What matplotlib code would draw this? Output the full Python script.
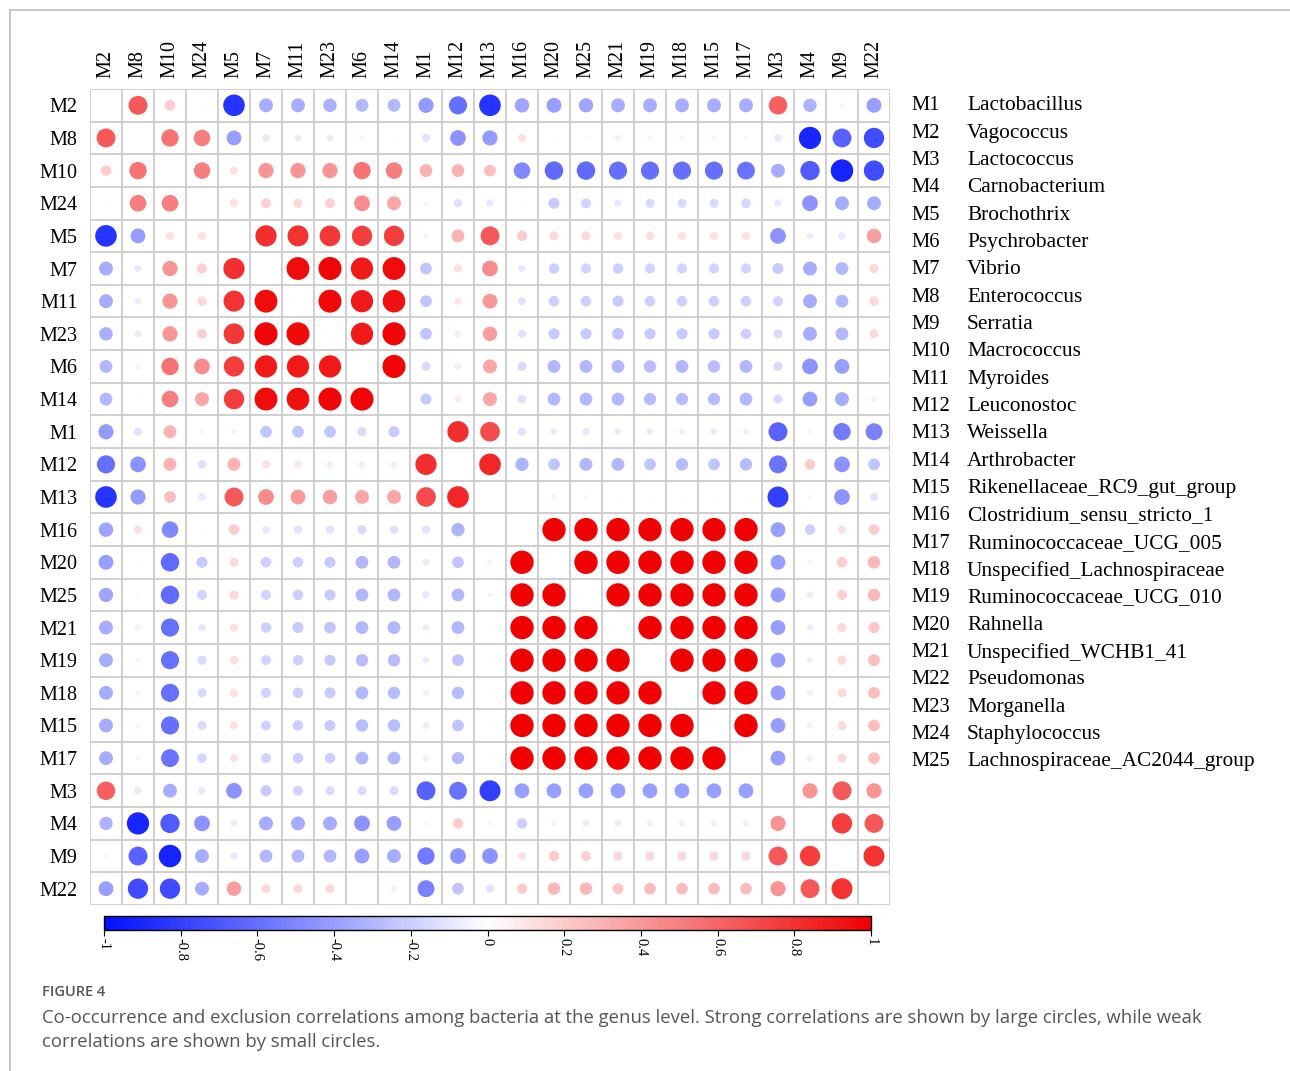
# -*- coding: utf-8 -*-
import numpy as np
import matplotlib
matplotlib.use("Agg")
import matplotlib.pyplot as plt
from matplotlib.colors import LinearSegmentedColormap, Normalize
from matplotlib.cm import ScalarMappable
from matplotlib.lines import Line2D

#* 变量顺序（聚类后的顺序）
labels = ["M2", "M8", "M10", "M24", "M5", "M7", "M11", "M23", "M6", "M14", "M1", "M12", "M13",
          "M16", "M20", "M25", "M21", "M19", "M18", "M15", "M17", "M3", "M4", "M9", "M22"]

#* 上三角相关系数, 每行从对角线右边一格开始
r_M2 = [0.65, 0.2, 0.02, -0.85, -0.35, -0.35, -0.33, -0.3, -0.3, -0.42, -0.6, -0.85,
        -0.38, -0.4, -0.37, -0.35, -0.35, -0.35, -0.35, -0.35, 0.62, -0.32, -0.04, -0.4]
r_M8 = [0.55, 0.5, -0.4, -0.1, -0.08, -0.08, 0.06, 0.02, -0.12, -0.45, -0.42,
        0.12, 0.02, 0.03, 0.07, 0.05, 0.05, 0.05, 0.04, -0.1, -0.9, -0.65, -0.75]
r_M10 = [0.5, 0.12, 0.42, 0.42, 0.42, 0.55, 0.5, 0.3, 0.3, 0.25,
         -0.5, -0.62, -0.62, -0.6, -0.6, -0.6, -0.6, -0.58, -0.35, -0.68, -0.92, -0.75]
r_M24 = [0.12, 0.18, 0.15, 0.18, 0.45, 0.35, 0.04, -0.13, -0.1,
         0.02, -0.22, -0.18, -0.1, -0.15, -0.15, -0.15, -0.17, -0.1, -0.45, -0.35, -0.35]
r_M5 = [0.82, 0.8, 0.78, 0.75, 0.75, -0.05, 0.3, 0.65,
        0.2, 0.15, 0.15, 0.12, 0.13, 0.12, 0.12, 0.12, -0.45, -0.08, -0.1, 0.38]
r_M7 = [0.95, 0.97, 0.9, 0.95, -0.25, 0.12, 0.45,
        -0.1, -0.2, -0.18, -0.2, -0.18, -0.18, -0.18, -0.18, -0.22, -0.35, -0.3, 0.15]
r_M11 = [0.96, 0.9, 0.93, -0.25, 0.1, 0.4,
         -0.12, -0.2, -0.2, -0.22, -0.2, -0.2, -0.2, -0.2, -0.18, -0.35, -0.3, 0.15]
r_M23 = [0.9, 0.97, -0.25, 0.08, 0.38,
         -0.12, -0.22, -0.22, -0.25, -0.22, -0.22, -0.22, -0.2, -0.15, -0.35, -0.3, 0.15]
r_M6 = [0.97, -0.15, 0.08, 0.35,
        -0.15, -0.3, -0.3, -0.3, -0.28, -0.3, -0.28, -0.3, -0.15, -0.45, -0.4, 0.0]
r_M14 = [-0.22, 0.08, 0.35,
         -0.13, -0.3, -0.3, -0.3, -0.28, -0.28, -0.28, -0.3, -0.15, -0.4, -0.35, 0.07]
r_M1 = [0.82, 0.7, -0.12, -0.08, -0.1, -0.08, -0.08, -0.07, -0.08, -0.07, -0.65, 0.04, -0.55, -0.52]
r_M12 = [0.85, -0.32, -0.25, -0.3, -0.3, -0.25, -0.28, -0.25, -0.28, -0.58, 0.2, -0.45, -0.25]
r_M13 = [0.0, 0.06, 0.04, 0.02, 0.02, 0.02, 0.02, 0.02, -0.8, 0.04, -0.45, -0.12]
r_M16 = [0.99, 0.99, 0.99, 0.99, 0.99, 0.99, 0.99, -0.4, -0.2, 0.12, 0.2]
r_M20 = [0.99, 0.99, 0.99, 0.99, 0.99, 0.99, -0.4, -0.05, 0.2, 0.28]
r_M25 = [0.99, 0.99, 0.99, 0.99, 0.99, -0.4, -0.08, 0.18, 0.28]
r_M21 = [0.99, 0.99, 0.99, 0.99, -0.4, -0.08, 0.15, 0.22]
r_M19 = [0.99, 0.99, 0.99, -0.4, -0.07, 0.15, 0.25]
r_M18 = [0.99, 0.99, -0.4, -0.07, 0.15, 0.25]
r_M15 = [0.99, -0.4, -0.07, 0.15, 0.25]
r_M17 = [-0.4, -0.07, 0.15, 0.25]
r_M3 = [0.42, 0.65, 0.42]
r_M4 = [0.75, 0.65]
r_M9 = [0.8]

upper_rows = [r_M2, r_M8, r_M10, r_M24, r_M5, r_M7, r_M11, r_M23, r_M6, r_M14, r_M1, r_M12, r_M13,
              r_M16, r_M20, r_M25, r_M21, r_M19, r_M18, r_M15, r_M17, r_M3, r_M4, r_M9]

#* 右侧图例
legend_codes = ["M%d" % i for i in range(1, 26)]
legend_names = ["Lactobacillus", "Vagococcus", "Lactococcus", "Carnobacterium", "Brochothrix",
                "Psychrobacter", "Vibrio", "Enterococcus", "Serratia", "Macrococcus", "Myroides",
                "Leuconostoc", "Weissella", "Arthrobacter", "Rikenellaceae_RC9_gut_group",
                "Clostridium_sensu_stricto_1", "Ruminococcaceae_UCG_005", "Unspecified_Lachnospiraceae",
                "Ruminococcaceae_UCG_010", "Rahnella", "Unspecified_WCHB1_41", "Pseudomonas",
                "Morganella", "Staphylococcus", "Lachnospiraceae_AC2044_group"]

cbar_ticks = [-1, -0.8, -0.6, -0.4, -0.2, 0, 0.2, 0.4, 0.6, 0.8, 1]
cbar_ticklabels = ["-1", "-0.8", "-0.6", "-0.4", "-0.2", "0", "0.2", "0.4", "0.6", "0.8", "1"]

caption_head = "FIGURE 4"
caption_lines = ["Co-occurrence and exclusion correlations among bacteria at the genus level. Strong correlations are shown by large circles, while weak",
                 "correlations are shown by small circles."]

#*----------------------------------------------------------------
n = len(labels)
mat = np.zeros((n, n))
for i, row in enumerate(upper_rows):
    for k, v in enumerate(row):
        j = i + 1 + k
        mat[i, j] = v
        mat[j, i] = v

cmap = LinearSegmentedColormap.from_list("bwr_corr", ["#0010ff", "#ffffff", "#f00000"])
norm = Normalize(-1, 1)
serif = "Liberation Serif"

W, H = 1290, 1071
fig = plt.figure(figsize=(W / 100, H / 100), dpi=100)
fig.patch.set_facecolor("white")

#* 页面框线
fig.add_artist(Line2D([10 / W, 10 / W], [0, 1 - 10 / H], color="#bdbdbd", lw=1.2))
fig.add_artist(Line2D([10 / W, 1], [1 - 10 / H, 1 - 10 / H], color="#bdbdbd", lw=1.2))

#* 主矩阵
ax = fig.add_axes([90 / W, 1 - 905 / H, 800 / W, 816 / H])
ax.set_xlim(-0.5, n - 0.5)
ax.set_ylim(n - 0.5, -0.5)
for k in range(n + 1):
    ax.axvline(k - 0.5, color="#cbcbcb", lw=1.3, zorder=1)
    ax.axhline(k - 0.5, color="#cbcbcb", lw=1.3, zorder=1)

xs, ys, vals = [], [], []
for i in range(n):
    for j in range(n):
        if i == j:
            continue
        xs.append(j)
        ys.append(i)
        vals.append(mat[i, j])
vals = np.array(vals)
ax.scatter(xs, ys, s=285 * np.abs(vals), c=vals, cmap=cmap, norm=norm, linewidths=0, zorder=3)

for s in ax.spines.values():
    s.set_visible(False)
ax.xaxis.tick_top()
ax.set_xticks(range(n))
ax.set_xticklabels(labels, rotation=90, fontsize=14.5, family=serif)
ax.set_yticks(range(n))
ax.set_yticklabels(labels, fontsize=14.5, family=serif)
ax.tick_params(length=0, pad=8)
ax.tick_params(axis="y", pad=9)

#* 颜色条
cax = fig.add_axes([104 / W, 1 - 930 / H, 767 / W, 14 / H])
cb = fig.colorbar(ScalarMappable(norm=norm, cmap=cmap), cax=cax, orientation="horizontal")
cb.set_ticks(cbar_ticks)
cb.set_ticklabels(cbar_ticklabels)
cb.outline.set_linewidth(1.0)
cax.tick_params(length=4, width=0.8, pad=2)
for t in cax.get_xticklabels():
    t.set_rotation(-90)
    t.set_family(serif)
    t.set_fontsize(10.5)
    t.set_va("top")

#* 图例文字
for k in range(len(legend_codes)):
    y = 1 - (106 + k * 27.33) / H
    fig.text(911 / W, y, legend_codes[k], fontsize=14.8, family=serif, va="center", ha="left")
    fig.text(967 / W, y, legend_names[k], fontsize=15.4, family=serif, va="center", ha="left")

#* 图注
fig.text(42 / W, 1 - 992 / H, caption_head, fontsize=10.5, color="#555555", family="Open Sans",
         fontweight="semibold", va="center", ha="left")
for k, line in enumerate(caption_lines):
    fig.text(42 / W, 1 - (1018 + k * 24) / H, line, fontsize=13.3, color="#555555", family="Open Sans",
             va="center", ha="left")

plt.savefig("out.png", dpi=100)
